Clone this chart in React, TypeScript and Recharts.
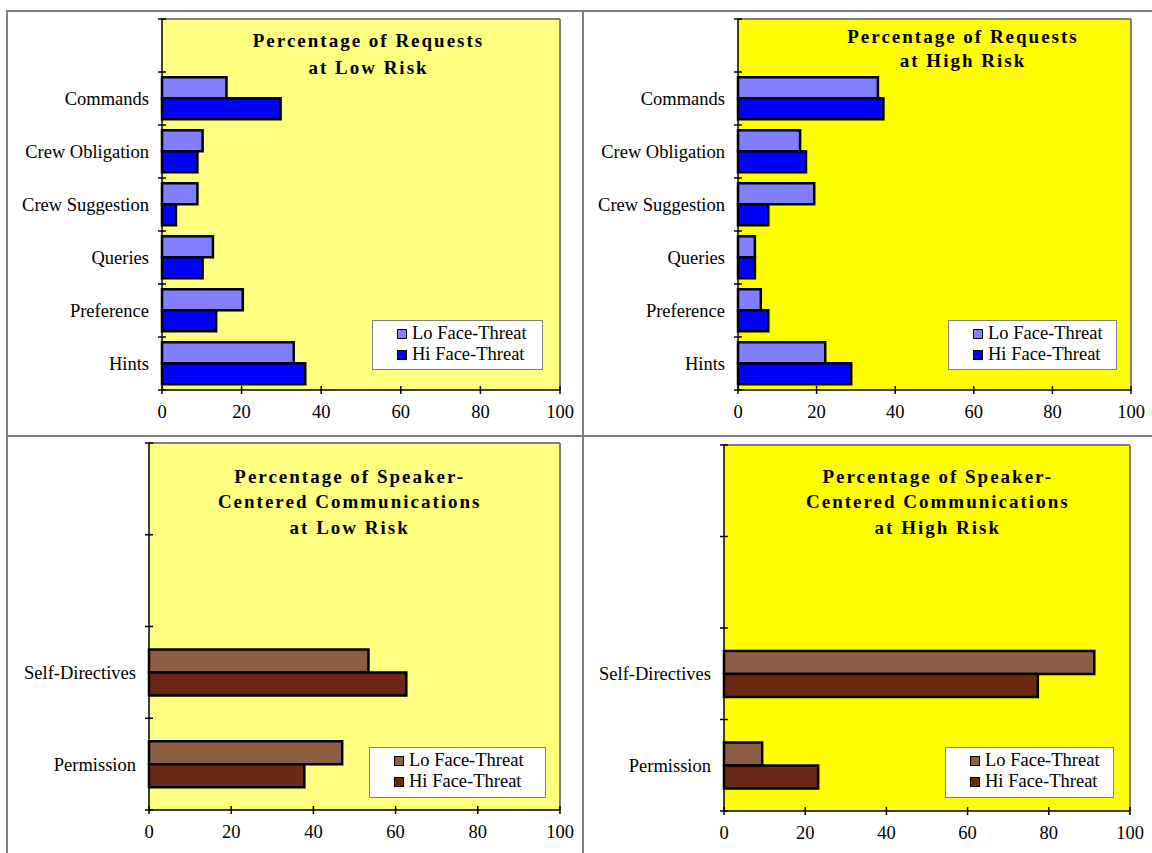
import React from 'react';
import { BarChart, Bar, XAxis, YAxis, CartesianGrid, Legend } from 'recharts';

// ---------- data ----------
const requestCategories = [' ', 'Commands', 'Crew Obligation', 'Crew Suggestion', 'Queries', 'Preference', 'Hints'];
const reqLowRiskLo = [null, 16.2, 10.2, 8.9, 12.8, 20.3, 33.1];
const reqLowRiskHi = [null, 29.8, 8.9, 3.5, 10.2, 13.6, 36.0];
const reqHighRiskLo = [null, 35.6, 15.8, 19.4, 4.3, 5.8, 22.2];
const reqHighRiskHi = [null, 37.0, 17.3, 7.7, 4.3, 7.7, 28.8];

const speakerCategories = [' ', '  ', 'Self-Directives', 'Permission'];
const spkLowRiskLo = [null, null, 53.4, 47.0];
const spkLowRiskHi = [null, null, 62.6, 37.8];
const spkHighRiskLo = [null, null, 91.2, 9.4];
const spkHighRiskHi = [null, null, 77.3, 23.2];

const xTicks = [0, 20, 40, 60, 80, 100];
const seriesNames = ['Lo Face-Threat', 'Hi Face-Threat'];
const blueColors = ['#8080FF', '#0000FF'];
const brownColors = ['#8C5F44', '#6B2814'];

const FONT = '"Liberation Serif", "Times New Roman", serif';

const buildRows = (cats: string[], lo: (number | null)[], hi: (number | null)[]) =>
  cats.map((c, i) => ({ name: c, lo: lo[i], hi: hi[i] }));

type PanelProps = {
  left: number; top: number; width: number; height: number;
  margin: { top: number; right: number; bottom: number; left: number };
  yWidth: number; xHeight: number;
  rows: any[]; colors: string[]; bg: string; gapPct: string;
  legend: { left: number; top: number; width: number; height: number };
};

function Panel(p: PanelProps) {
  const plotH = p.height - p.margin.top - p.margin.bottom - p.xHeight;
  const n = p.rows.length;
  const band = plotH / n;

  const YTick = (props: any) => {
    const { x, y, payload, index } = props;
    const label = String(payload.value).trim();
    return (
      <g>
        <line x1={x - 4} x2={x + 4} y1={y - band / 2} y2={y - band / 2} stroke="#000" strokeWidth={1.5} />
        {index === n - 1 && (
          <line x1={x - 4} x2={x + 4} y1={y + band / 2} y2={y + band / 2} stroke="#000" strokeWidth={1.5} />
        )}
        <text x={x - 13} y={y} dy="0.35em" textAnchor="end" fontFamily={FONT} fontSize={18.5} fill="#000">
          {label}
        </text>
      </g>
    );
  };

  const XTick = (props: any) => {
    const { x, y, payload } = props;
    return (
      <g>
        <line x1={x} x2={x} y1={y - 4} y2={y + 4} stroke="#000" strokeWidth={1.5} />
        <text x={x} y={y + 22} dy="0.35em" textAnchor="middle" fontFamily={FONT} fontSize={18.5} fill="#000">
          {payload.value}
        </text>
      </g>
    );
  };

  const legendContent = () => (
    <div
      style={{
        width: '100%', height: '100%', boxSizing: 'border-box', background: '#fff',
        border: '1.5px solid #808080', paddingTop: 2, paddingLeft: 24,
      }}
    >
      {seriesNames.map((nm, i) => (
        <div
          key={nm}
          style={{
            display: 'flex', alignItems: 'center', height: 21, fontFamily: FONT,
            fontSize: 18.5, color: '#000', whiteSpace: 'nowrap',
          }}
        >
          <span
            style={{
              display: 'inline-block', width: 10, height: 10, background: p.colors[i],
              border: '1.5px solid #000', boxSizing: 'border-box', marginRight: 5,
            }}
          />
          {nm}
        </div>
      ))}
    </div>
  );

  return (
    <div style={{ position: 'absolute', left: p.left, top: p.top }}>
      <BarChart
        width={p.width}
        height={p.height}
        data={p.rows}
        layout="vertical"
        margin={p.margin}
        barGap={0}
        barCategoryGap={p.gapPct}
      >
        <CartesianGrid
          fill={p.bg}
          stroke="#808080"
          strokeWidth={2}
          horizontalCoordinatesGenerator={({ offset }: any) => [offset.top]}
          verticalCoordinatesGenerator={({ offset }: any) => [offset.left + offset.width]}
        />
        <XAxis
          type="number"
          domain={[0, 100]}
          ticks={xTicks}
          height={p.xHeight}
          tickSize={0}
          tickMargin={0}
          tickLine={false}
          axisLine={{ stroke: '#000', strokeWidth: 1.5 }}
          tick={<XTick />}
          interval={0}
        />
        <YAxis
          type="category"
          dataKey="name"
          width={p.yWidth}
          tickSize={0}
          tickMargin={0}
          tickLine={false}
          axisLine={{ stroke: '#000', strokeWidth: 1.5 }}
          tick={<YTick />}
          interval={0}
        />
        <Legend
          layout="vertical"
          align="center"
          verticalAlign="middle"
          width={p.legend.width}
          height={p.legend.height}
          wrapperStyle={{
            left: p.legend.left, top: p.legend.top, width: p.legend.width, height: p.legend.height,
          }}
          content={legendContent}
        />
        <Bar dataKey="lo" name={seriesNames[0]} fill={p.colors[0]} stroke="#000" strokeWidth={2.5} isAnimationActive={false} />
        <Bar dataKey="hi" name={seriesNames[1]} fill={p.colors[1]} stroke="#000" strokeWidth={2.5} isAnimationActive={false} />
      </BarChart>
    </div>
  );
}

function Title({ lines, cx, top, lh }: { lines: string[]; cx: number; top: number; lh: number }) {
  return (
    <div
      style={{
        position: 'absolute', left: cx - 200, top, width: 400, textAlign: 'center',
        fontFamily: FONT, fontWeight: 'bold', fontSize: 19, letterSpacing: 2, lineHeight: `${lh}px`,
        paddingLeft: 2, boxSizing: 'border-box', color: '#000',
      }}
    >
      {lines.map((l) => (
        <div key={l}>{l}</div>
      ))}
    </div>
  );
}

const lineStyle = (l: number, t: number, w: number, h: number): React.CSSProperties => ({
  position: 'absolute', left: l, top: t, width: w, height: h, background: '#808080',
});

export default function App() {
  return (
    <div style={{ position: 'absolute', left: 0, top: 0, width: 1152, height: 853, background: '#fff', fontFamily: FONT, overflow: 'hidden' }}>
      <Panel
        left={0} top={0} width={583} height={435}
        margin={{ top: 19, right: 23, bottom: 10, left: 0 }}
        yWidth={162} xHeight={35}
        rows={buildRows(requestCategories, reqLowRiskLo, reqLowRiskHi)}
        colors={blueColors} bg="#FFFF80" gapPct="10%"
        legend={{ left: 372, top: 320, width: 171, height: 50 }}
      />
      <Panel
        left={583} top={0} width={569} height={435}
        margin={{ top: 19, right: 21, bottom: 10, left: 0 }}
        yWidth={155} xHeight={35}
        rows={buildRows(requestCategories, reqHighRiskLo, reqHighRiskHi)}
        colors={blueColors} bg="#FFFF00" gapPct="10%"
        legend={{ left: 365, top: 320, width: 169, height: 50 }}
      />
      <Panel
        left={0} top={435} width={583} height={418}
        margin={{ top: 8, right: 23, bottom: 8, left: 0 }}
        yWidth={149} xHeight={35}
        rows={buildRows(speakerCategories, spkLowRiskLo, spkLowRiskHi)}
        colors={brownColors} bg="#FFFF80" gapPct="25%"
        legend={{ left: 369, top: 312, width: 177, height: 51 }}
      />
      <Panel
        left={583} top={435} width={569} height={418}
        margin={{ top: 10, right: 22, bottom: 7, left: 0 }}
        yWidth={141} xHeight={35}
        rows={buildRows(speakerCategories, spkHighRiskLo, spkHighRiskHi)}
        colors={brownColors} bg="#FFFF00" gapPct="25%"
        legend={{ left: 362, top: 312, width: 169, height: 51 }}
      />

      <Title lines={['Percentage of Requests', 'at Low Risk']} cx={367.5} top={28.4} lh={26.6} />
      <Title lines={['Percentage of Requests', 'at High Risk']} cx={962} top={24.5} lh={24.4} />
      <Title lines={['Percentage of Speaker-', 'Centered Communications', 'at Low Risk']} cx={348.7} top={464} lh={25.3} />
      <Title lines={['Percentage of Speaker-', 'Centered Communications', 'at High Risk']} cx={936.8} top={464} lh={25.3} />

      {/* table cell borders */}
      <div style={lineStyle(7, 10, 1145, 2)} />
      <div style={lineStyle(6, 10, 2, 843)} />
      <div style={lineStyle(582, 10, 2, 843)} />
      <div style={lineStyle(6, 435, 1146, 2)} />
    </div>
  );
}
